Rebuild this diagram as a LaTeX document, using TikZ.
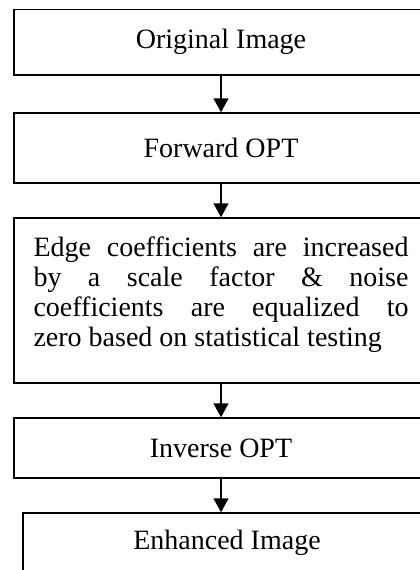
\documentclass[tikz,border=0pt]{standalone}
\usepackage{fontspec}
\setmainfont{Liberation Serif}
\usetikzlibrary{arrows.meta}
\begin{document}
\begin{tikzpicture}[x=1pt,y=1pt,
  boxstyle/.style={draw, line width=1.5pt, rectangle, inner sep=0pt, font=\fontsize{28}{30}\selectfont},
  arr/.style={line width=1.5pt, -{Triangle[width=15pt,length=14pt]}}]
\useasboundingbox (0,0) rectangle (420,-570);
\clip (0,0) rectangle (420,-570);
\node[boxstyle, minimum width=414pt, minimum height=65.5pt] (b1) at (221,-42.25) {Original Image};
\node[boxstyle, minimum width=414pt, minimum height=70pt] (b2) at (221,-148) {Forward OPT};
\node[boxstyle, minimum width=414pt, minimum height=165pt] (b3) at (221,-300.5) {};
\node[font=\fontsize{28}{30}\selectfont, text width=375pt, align=justify, inner sep=0pt] (t3) at (221,-295)
  {Edge coefficients are increased\linebreak by a scale factor \& noise\linebreak coefficients are equalized to\linebreak zero based on statistical testing};
\node[boxstyle, minimum width=414pt, minimum height=60pt] (b4) at (221,-448) {Inverse OPT};
\node[boxstyle, minimum width=408pt, minimum height=59pt] (b5) at (227,-542.5) {Enhanced Image};
\draw[arr] (b1) -- (b2);
\draw[arr] (b2) -- (b3);
\draw[arr] (b3) -- (b4);
\draw[arr] (b4.south) -- (b4.south |- b5.north);
\end{tikzpicture}
\end{document}
